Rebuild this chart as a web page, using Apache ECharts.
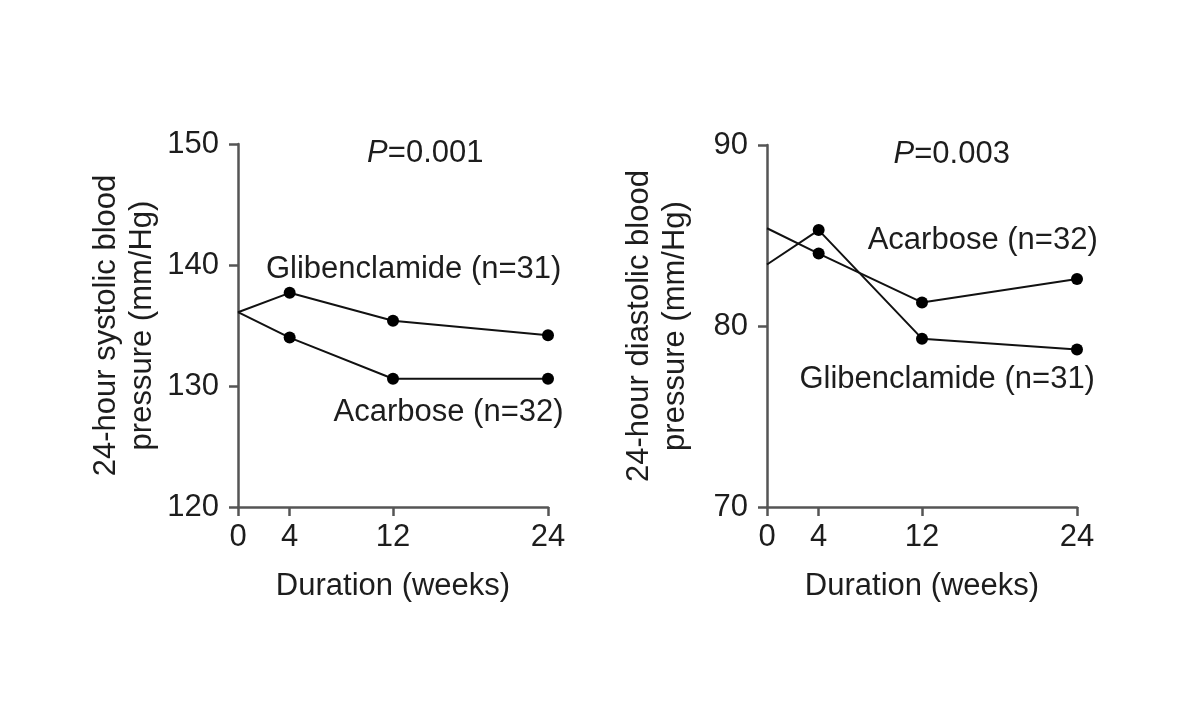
<!DOCTYPE html>
<html>
<head>
<meta charset="utf-8">
<script src="https://cdn.jsdelivr.net/npm/echarts@6/dist/echarts.min.js"></script>
<style>html,body{margin:0;padding:0;background:#fff}#c{width:1200px;height:707px}</style>
</head>
<body>
<div id="c"></div>
<script>
const weeks = [0, 4, 12, 24];
const xTicks = [0, 4, 12, 24];
const sysTicks = [120, 130, 140, 150];
const diaTicks = [70, 80, 90];
const sysGlib = [136.1, 137.7, 135.4, 134.2];
const sysAcar = [136.1, 134.0, 130.6, 130.6];
const diaAcar = [85.4, 84.0, 81.3, 82.6];
const diaGlib = [83.4, 85.3, 79.3, 78.7];
const sysP = '0.001';
const diaP = '0.003';
const sysLabels = [
  {text: 'Glibenclamide (n=31)', coord: [13.6, 139.6]},
  {text: 'Acarbose (n=32)', coord: [16.3, 127.8]},
  {text: 'P', p: sysP, coord: [14.5, 149.2]}
];
const diaLabels = [
  {text: 'Acarbose (n=32)', coord: [16.7, 84.75]},
  {text: 'Glibenclamide (n=31)', coord: [13.95, 77.07]},
  {text: 'P', p: diaP, coord: [14.3, 89.5]}
];

const FONT = '"Liberation Sans", Arial, Helvetica, sans-serif';
const TXT = '#1d1d1d';
const FS = 31;
const AX = '#555';

function pts(vals) {
  return weeks.map((w, i) => i === 0 ? {value: [w, vals[i]], symbol: 'none'} : {value: [w, vals[i]]});
}
function marks(list) {
  return {
    silent: true,
    symbol: 'rect',
    symbolSize: 1,
    itemStyle: {color: 'rgba(0,0,0,0)'},
    data: list.map(l => ({
      coord: l.coord,
      label: {
        show: true,
        position: 'inside',
        formatter: l.p ? '{i|P}=' + l.p : l.text,
        color: TXT,
        fontFamily: FONT,
        fontSize: FS,
        rich: {i: {fontStyle: 'italic', fontFamily: FONT, fontSize: FS, color: TXT}}
      }
    }))
  };
}
function xAxis(idx) {
  return {
    type: 'value', gridIndex: idx, min: 0, max: 24,
    name: 'Duration (weeks)', nameLocation: 'middle', nameGap: 64,
    nameTextStyle: {fontFamily: FONT, fontSize: FS, color: TXT},
    axisLine: {lineStyle: {color: AX, width: 2.5}},
    axisTick: {show: true, length: 9, customValues: xTicks, lineStyle: {color: AX, width: 2.5}},
    axisLabel: {customValues: xTicks, margin: 15, fontFamily: FONT, fontSize: FS, color: TXT},
    splitLine: {show: false}
  };
}
function yAxis(idx, min, max, ticks, name, gap) {
  return {
    type: 'value', gridIndex: idx, min: min, max: max, interval: 10,
    name: name, nameLocation: 'middle', nameGap: gap, nameRotate: 90,
    nameTextStyle: {fontFamily: FONT, fontSize: FS, color: TXT, lineHeight: 36},
    axisLine: {show: true, lineStyle: {color: AX, width: 2.5}},
    axisTick: {show: true, length: 9, customValues: ticks, lineStyle: {color: AX, width: 2.5}},
    axisLabel: {customValues: ticks, margin: 19, fontFamily: FONT, fontSize: FS, color: TXT},
    splitLine: {show: false}
  };
}
function line(idx, vals, ml) {
  const s = {
    type: 'line', xAxisIndex: idx, yAxisIndex: idx, data: pts(vals),
    symbol: 'circle', symbolSize: 12, showAllSymbol: true,
    lineStyle: {color: '#111', width: 2},
    itemStyle: {color: '#000'},
    animation: false, clip: false
  };
  if (ml) s.markPoint = marks(ml);
  return s;
}

const chart = echarts.init(document.getElementById('c'), null, {renderer: 'canvas'});
chart.setOption({
  backgroundColor: '#fff',
  animation: false,
  grid: [
    {left: 238, right: 652, top: 144, bottom: 200},
    {left: 767, right: 123, top: 145, bottom: 200}
  ],
  xAxis: [xAxis(0), xAxis(1)],
  yAxis: [
    yAxis(0, 120, 150, sysTicks, '24-hour systolic blood\npressure (mm/Hg)', 78),
    yAxis(1, 70, 90, diaTicks, '24-hour diastolic blood\npressure (mm/Hg)', 74)
  ],
  series: [
    line(0, sysGlib, sysLabels),
    line(0, sysAcar),
    line(1, diaAcar, diaLabels),
    line(1, diaGlib)
  ]
});
</script>
</body>
</html>
